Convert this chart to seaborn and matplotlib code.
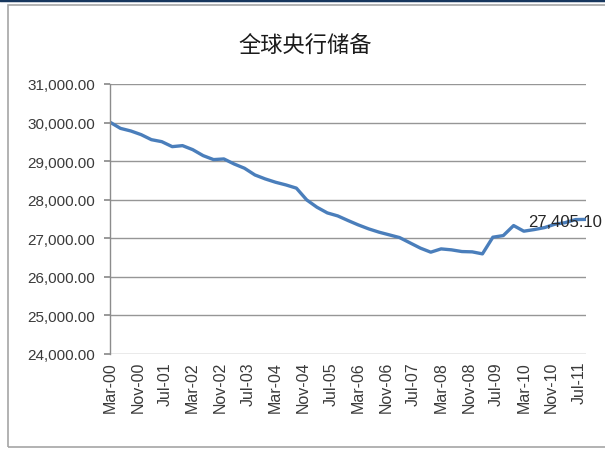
import matplotlib
matplotlib.use("Agg")
import matplotlib.pyplot as plt
from matplotlib.patches import Rectangle
from matplotlib.lines import Line2D
import pandas as pd
import seaborn as sns

# Quarterly global central bank reserves
quarters = [
    "2000-03", "2000-06", "2000-09", "2000-12",
    "2001-03", "2001-06", "2001-09", "2001-12",
    "2002-03", "2002-06", "2002-09", "2002-12",
    "2003-03", "2003-06", "2003-09", "2003-12",
    "2004-03", "2004-06", "2004-09", "2004-12",
    "2005-03", "2005-06", "2005-09", "2005-12",
    "2006-03", "2006-06", "2006-09", "2006-12",
    "2007-03", "2007-06", "2007-09", "2007-12",
    "2008-03", "2008-06", "2008-09", "2008-12",
    "2009-03", "2009-06", "2009-09", "2009-12",
    "2010-03", "2010-06", "2010-09", "2010-12",
    "2011-03", "2011-06", "2011-09",
]
reserves = [
    30010, 29850, 29782, 29687,
    29557, 29505, 29376, 29402,
    29298, 29143, 29040, 29057,
    28927, 28816, 28642, 28539,
    28453, 28383, 28300, 27995,
    27806, 27658, 27580, 27460,
    27347, 27244, 27158, 27088,
    27018, 26881, 26744, 26640,
    26725, 26700, 26656, 26648,
    26596, 27028, 27070, 27330,
    27184, 27226, 27278, 27365,
    27405.10, 27485, 27490,
]
labeled_quarter = "2011-03"

tick_labels = ["Mar-00", "Nov-00", "Jul-01", "Mar-02", "Nov-02", "Jul-03",
               "Mar-04", "Nov-04", "Jul-05", "Mar-06", "Nov-06", "Jul-07",
               "Mar-08", "Nov-08", "Jul-09", "Mar-10", "Nov-10", "Jul-11"]
y_ticks = [24000, 25000, 26000, 27000, 28000, 29000, 30000, 31000]

title = "全球央行储备"

df = pd.DataFrame({"date": pd.to_datetime(quarters, format="%Y-%m"),
                   "reserves": reserves})

sns.set_theme(style="white")
plt.rcParams["font.family"] = ["Liberation Sans", "DejaVu Sans"]

fig = plt.figure(figsize=(6.05, 4.56), dpi=100)
ax = fig.add_axes([110 / 605, 1 - 355 / 456, (586 - 110) / 605, (355 - 85) / 456])

sns.lineplot(data=df, x="date", y="reserves", ax=ax, color="#4A7EBB",
             linewidth=2.4, solid_joinstyle="round", solid_capstyle="round")

ax.set_xlim(df["date"].iloc[0], df["date"].iloc[-1])
ax.set_ylim(y_ticks[0], y_ticks[-1])
ax.set_yticks(y_ticks)
ax.set_yticklabels([f"{v:,.2f}" for v in y_ticks], fontsize=11, color="#3A3A3A")
ax.yaxis.grid(True, color="#969696", linewidth=1)
ax.xaxis.grid(False)

tick_dates = pd.to_datetime(tick_labels, format="%b-%y")
ax.set_xticks(tick_dates)
ax.set_xticklabels(tick_labels, rotation=90, fontsize=11.5, color="#3A3A3A")
ax.set_xlabel("")
ax.set_ylabel("")

for side in ["top", "right", "bottom"]:
    ax.spines[side].set_visible(False)
ax.spines["left"].set_color("#8C8C8C")
ax.spines["left"].set_linewidth(1)
ax.tick_params(axis="y", which="major", length=4, color="#8C8C8C", pad=7, left=True)
ax.tick_params(axis="x", which="major", length=0, pad=5)

# value label on the highlighted quarter
row = df[df["date"] == pd.to_datetime(labeled_quarter, format="%Y-%m")].iloc[0]
ax.annotate(f"{row['reserves']:,.2f}", xy=(row["date"], row["reserves"]),
            xytext=(0, 1), textcoords="offset points", ha="center", va="center",
            fontsize=12, color="#262626", annotation_clip=False)

fig.text(305 / 605, 1 - 46 / 456, title, ha="center", va="center", fontsize=16,
         family=["Noto Sans CJK SC", "DejaVu Sans"], fontweight="light",
         color="#1A1A1A")

# chart frame
fig.patches.append(Rectangle((8 / 605, 1 - 448 / 456), 1.0, (448 - 6) / 456,
                             transform=fig.transFigure, fill=False,
                             edgecolor="#A6A6A6", linewidth=1.2))
fig.lines.append(Line2D([0, 1], [1 - 1 / 456, 1 - 1 / 456], transform=fig.transFigure,
                        color="#17375E", linewidth=2.5))

fig.savefig("out.png", dpi=100)
